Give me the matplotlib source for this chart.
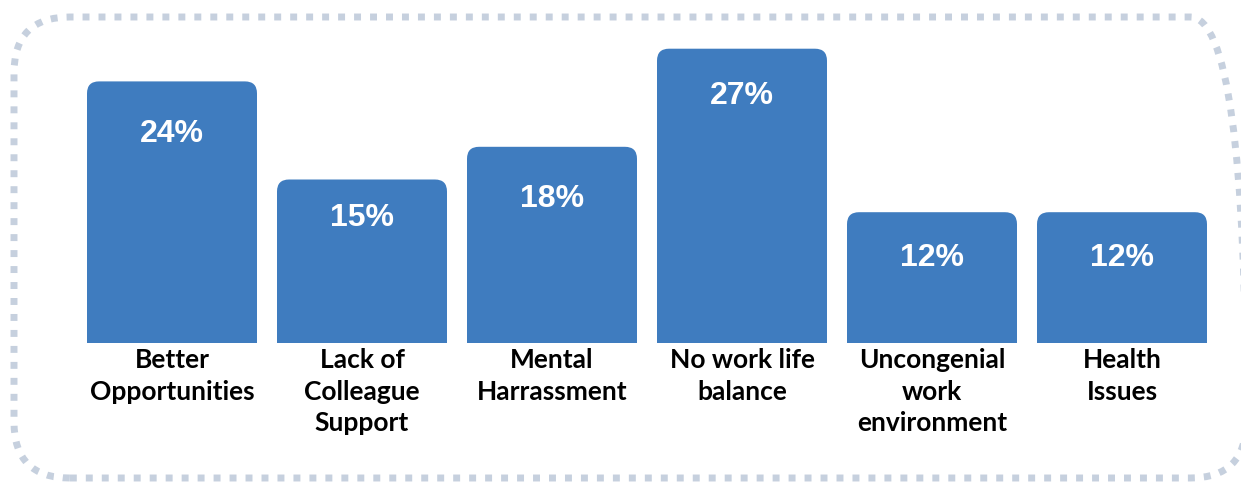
import matplotlib.pyplot as plt
from matplotlib.patches import FancyBboxPatch

# reasons for leaving and their share
categories = ["Better\nOpportunities", "Lack of\nColleague\nSupport", "Mental\nHarrassment",
              "No work life\nbalance", "Uncongenial\nwork\nenvironment", "Health\nIssues"]
shares = [24, 15, 18, 27, 12, 12]
label_drop = [4.8, 3.5, 4.8, 4.3, 4.2, 4.2]

bar_color = "#3F7CBF"
W, H = 1241, 482

fig = plt.figure(figsize=(W / 100, H / 100), dpi=100)
fig.patch.set_facecolor("white")

# dashed rounded frame
frame = FancyBboxPatch((14 / W, 4 / H), 1232 / W, 461 / H,
                       boxstyle="round,pad=0,rounding_size=0.045",
                       mutation_aspect=W / H,
                       transform=fig.transFigure, fill=False,
                       edgecolor="#C6D0DE", linewidth=5,
                       linestyle=(0, (1.0, 1.3)), capstyle="butt")
fig.patches.append(frame)

ax_left, ax_width = 77, 1140
ax_bottom, ax_height = H - 343, 327
ax = fig.add_axes([ax_left / W, ax_bottom / H, ax_width / W, ax_height / H])
ax.set_xlim(-0.5, 5.5)
ax.set_ylim(0, 30)
ax.axis("off")

bw = 170 / 190
px_x = ax_width / 6
px_y = ax_height / 30
r = 12 / px_x
for i, v in enumerate(shares):
    bar = FancyBboxPatch((i - bw / 2, -2), bw, v + 2,
                         boxstyle=f"round,pad=0,rounding_size={r}",
                         mutation_aspect=px_x / px_y,
                         facecolor=bar_color, edgecolor="none")
    ax.add_patch(bar)
    ax.text(i, v - label_drop[i], f"{v}%", ha="center", va="center",
            color="white", fontsize=23, fontweight="bold",
            family="Liberation Sans")
    ax.text(i, -0.45, categories[i], ha="center", va="top",
            fontsize=19, fontweight="bold", family="Lato",
            linespacing=1.38, clip_on=False)

fig.savefig("out.png", dpi=100)
